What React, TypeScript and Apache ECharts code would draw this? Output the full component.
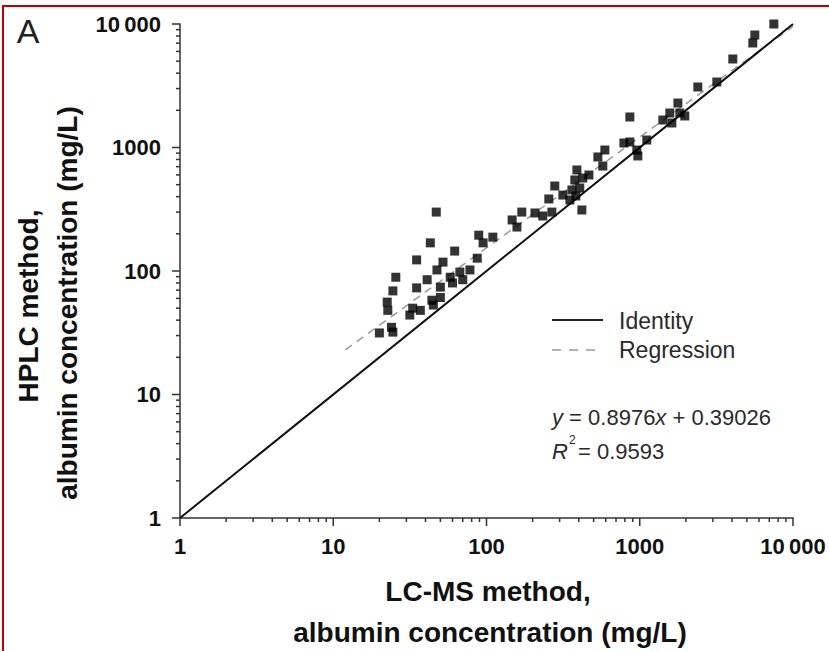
import React, { useEffect, useRef } from 'react';
import * as echarts from 'echarts';

// LC-MS method (x) and HPLC method (y), albumin concentration in mg/L
const lcms = [
  20, 24.5, 24, 22.5, 22.7, 24.5, 25.6, 31.6, 33, 37, 35, 41, 35, 43, 47, 44, 45, 50, 47.5, 50,
  52, 58, 60, 62, 67, 70, 78, 87, 89, 95, 110, 147, 158, 170, 207, 233, 267, 255, 279, 315,
  350, 383, 389, 377, 425, 466, 419, 361, 406, 533, 592, 574, 788, 862, 957, 972, 1112, 862,
  1415, 1571, 1774, 1828, 1968, 1620, 2393, 3184, 4048, 5466, 5634, 7499,
];
const hplc = [
  31.5, 32, 35, 56, 48, 69, 89, 44, 50, 48, 73, 85, 123, 169, 300, 58, 53, 61, 102, 74,
  118, 89, 80, 145, 98, 85, 102, 127, 195, 169, 188, 259, 227, 300, 295, 279, 300, 383, 488, 412,
  376, 405, 658, 546, 566, 599, 312, 453, 470, 838, 954, 708, 1087, 1108, 954, 854, 1150, 1766,
  1670, 1902, 2291, 1902, 1800, 1579, 3090, 3390, 5207, 7020, 8146, 10000,
];

const identityLine = [[1, 1], [10000, 10000]];
const regressionLine = [[12, 23], [10000, 9560]];
const majorTickValues = [1, 10, 100, 1000, 10000];
const minorTickValues = [
  2, 3, 4, 5, 6, 7, 8, 9, 20, 30, 40, 50, 60, 70, 80, 90,
  200, 300, 400, 500, 600, 700, 800, 900, 2000, 3000, 4000, 5000, 6000, 7000, 8000, 9000,
];
const tickLabels: Record<number, string> = { 1: '1', 10: '10', 100: '100', 1000: '1000', 10000: '10\u2009000' };
const legendLabels = ['Identity', 'Regression'];
const panelLabel = 'A';
const xTitleLines = ['LC-MS method,', 'albumin concentration (mg/L)'];
const yTitleLines = ['HPLC method,', 'albumin concentration (mg/L)'];
const slope = '0.8976';
const intercept = '0.39026';
const rSquared = '0.9593';

const FONT = 'Liberation Sans, Arial, Helvetica, sans-serif';
const AXIS = '#333333';

export default function App() {
  const ref = useRef<HTMLDivElement>(null);
  useEffect(() => {
    if (!ref.current) return;
    const chart = echarts.init(ref.current, null, { renderer: 'svg' });
    const fmt = (v: number) => tickLabels[Math.round(v)] ?? '';
    const axisCommon = {
      type: 'log',
      logBase: 10,
      min: 1,
      max: 10000,
      axisLine: { show: true, onZero: false, lineStyle: { color: AXIS, width: 1.5 } },
      axisTick: { show: false },
      splitLine: { show: false },
    };
    const tickData = [
      ...majorTickValues.map((v) => [v, 8]),
      ...minorTickValues.map((v) => [v, 4]),
    ];
    const tickSeries = (dir: 'x' | 'y') => ({
      type: 'custom',
      data: tickData,
      clip: false,
      silent: true,
      z: 5,
      renderItem: (params: any, api: any) => {
        const v = api.value(0);
        const len = api.value(1);
        if (dir === 'x') {
          const p = api.coord([v, 1]);
          return {
            type: 'line',
            shape: { x1: p[0], y1: p[1], x2: p[0], y2: p[1] + len },
            style: { stroke: AXIS, lineWidth: 1.5 },
          };
        }
        const p = api.coord([1, v]);
        return {
          type: 'line',
          shape: { x1: p[0], y1: p[1], x2: p[0] - len, y2: p[1] },
          style: { stroke: AXIS, lineWidth: 1.5 },
        };
      },
    });
    const txt = (x: number, y: number, text: string, extra: any = {}) => ({
      type: 'text',
      x,
      y,
      rotation: extra.rotation ?? 0,
      style: {
        text,
        fontFamily: FONT,
        fontSize: extra.fontSize ?? 22,
        fontWeight: extra.fontWeight ?? 'normal',
        fontStyle: extra.fontStyle ?? 'normal',
        fill: extra.fill ?? '#2a2a2a',
        textAlign: extra.align ?? 'left',
        textVerticalAlign: 'middle',
        align: extra.align ?? 'left',
        verticalAlign: 'middle',
      },
    });
    chart.setOption({
      animation: false,
      backgroundColor: '#ffffff',
      grid: { left: 180, right: 36, top: 24, bottom: 133, containLabel: false },
      xAxis: {
        ...axisCommon,
        axisLabel: { fontSize: 22, fontWeight: 'bold', color: '#111', fontFamily: FONT, margin: 17, formatter: fmt },
      },
      yAxis: {
        ...axisCommon,
        axisLabel: { fontSize: 22, fontWeight: 'bold', color: '#111', fontFamily: FONT, margin: 19, formatter: fmt },
      },
      series: [
        tickSeries('x'),
        tickSeries('y'),
        {
          type: 'line',
          name: legendLabels[1],
          data: regressionLine,
          symbol: 'none',
          lineStyle: { color: '#9a9a9a', width: 1.5, type: [8, 6] },
          z: 2,
        },
        {
          type: 'line',
          name: legendLabels[0],
          data: identityLine,
          symbol: 'none',
          lineStyle: { color: '#111', width: 2 },
          z: 3,
        },
        {
          type: 'scatter',
          data: lcms.map((x, i) => [x, hplc[i]]),
          symbol: 'rect',
          symbolSize: 9,
          itemStyle: { color: '#000' },
          z: 4,
        },
      ],
      graphic: [
        {
          type: 'polyline',
          shape: { points: [[3, 651], [3, 6], [829, 6]] },
          style: { stroke: '#c00000', lineWidth: 2, fill: null },
        },
        txt(28, 31, panelLabel, { fontSize: 34, align: 'center', fill: '#222' }),
        txt(488, 591, xTitleLines[0], { fontSize: 28, fontWeight: 'bold', align: 'center', fill: '#111' }),
        txt(490, 632, xTitleLines[1], { fontSize: 28, fontWeight: 'bold', align: 'center', fill: '#111' }),
        txt(28, 306, yTitleLines[0], { fontSize: 28, fontWeight: 'bold', align: 'center', fill: '#111', rotation: Math.PI / 2 }),
        txt(67, 303, yTitleLines[1], { fontSize: 28, fontWeight: 'bold', align: 'center', fill: '#111', rotation: Math.PI / 2 }),
        {
          type: 'line',
          shape: { x1: 552, y1: 320, x2: 603, y2: 320 },
          style: { stroke: '#222', lineWidth: 2 },
        },
        {
          type: 'line',
          shape: { x1: 552, y1: 350, x2: 603, y2: 350 },
          style: { stroke: '#9a9a9a', lineWidth: 1.5, lineDash: [9, 8] },
        },
        txt(619, 321, legendLabels[0], { fontSize: 23 }),
        txt(619, 350, legendLabels[1], { fontSize: 23 }),
        {
          type: 'text',
          x: 552,
          y: 417,
          style: {
            text: `{i|y}{n| = ${slope}}{i|x}{n| + ${intercept}}`,
            rich: {
              i: { fontFamily: FONT, fontSize: 22, fontStyle: 'italic', fill: '#2a2a2a', color: '#2a2a2a' },
              n: { fontFamily: FONT, fontSize: 22, fill: '#2a2a2a', color: '#2a2a2a' },
            },
            textAlign: 'left',
            textVerticalAlign: 'middle',
            align: 'left',
            verticalAlign: 'middle',
          },
        },
        txt(552, 451, 'R', { fontStyle: 'italic' }),
        txt(569, 440, '2', { fontSize: 12 }),
        txt(578, 451, `= ${rSquared}`),
      ],
    });
    return () => chart.dispose();
  }, []);
  return (
    <div
      ref={ref}
      style={{ position: 'absolute', left: 0, top: 0, width: 829, height: 651, background: '#fff' }}
    />
  );
}
